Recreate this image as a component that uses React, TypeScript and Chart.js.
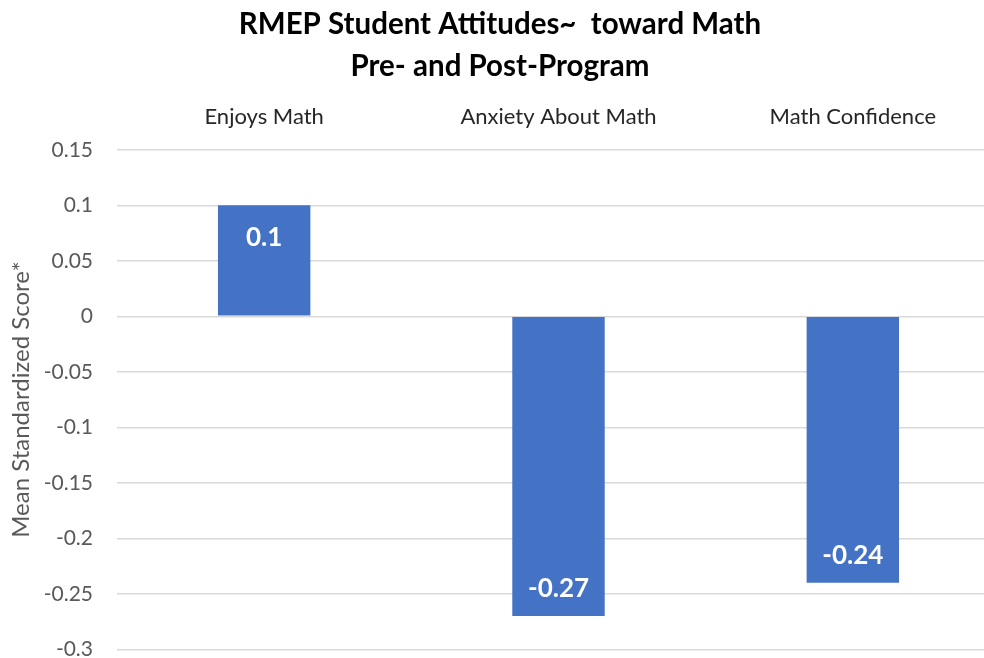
import React, { useEffect, useRef } from "react";
import { Chart, registerables } from "chart.js";

Chart.register(...registerables);

const categories = ["Enjoys Math", "Anxiety About Math", "Math Confidence"];
const meanScores = [0.1, -0.27, -0.24];
const titleLines = ["RMEP Student Attitudes~  toward Math", "Pre- and Post-Program"];
const yAxisTitle = "Mean Standardized Score*";

const FONT = "Lato, 'Open Sans', sans-serif";

// Writes each bar's value inside the bar, near its far end.
const barValueLabels = {
  id: "barValueLabels",
  afterDatasetsDraw(chart: any) {
    const { ctx } = chart;
    const meta = chart.getDatasetMeta(0);
    const data = chart.data.datasets[0].data as number[];
    ctx.save();
    ctx.fillStyle = "#ffffff";
    ctx.font = `bold 26px ${FONT}`;
    ctx.textAlign = "center";
    ctx.textBaseline = "middle";
    meta.data.forEach((bar: any, i: number) => {
      const v = data[i];
      const y = v >= 0 ? bar.y + 32 : bar.y - 27;
      ctx.fillText(String(v), bar.x, y);
    });
    ctx.restore();
  },
};

export default function App() {
  const canvasRef = useRef<HTMLCanvasElement | null>(null);

  useEffect(() => {
    if (!canvasRef.current) return;
    const chart = new Chart(canvasRef.current, {
      type: "bar",
      data: {
        labels: categories,
        datasets: [
          {
            data: meanScores,
            backgroundColor: "#4472c4",
            borderWidth: 0,
            barPercentage: 1,
            categoryPercentage: 0.314,
          },
        ],
      },
      options: {
        animation: false,
        responsive: true,
        maintainAspectRatio: false,
        layout: { padding: { left: 0, right: 0, top: 0, bottom: 0 } },
        plugins: {
          legend: { display: false },
          tooltip: { enabled: false },
          title: {
            display: true,
            text: titleLines,
            color: "#000000",
            font: { family: FONT, size: 29.5, weight: "bold", lineHeight: 1.42 },
            padding: { top: 4, bottom: 0 },
          },
        },
        scales: {
          x: {
            position: "top",
            grid: { display: false, drawTicks: false },
            border: { display: false },
            ticks: {
              color: "#262626",
              font: { family: FONT, size: 22 },
              padding: 20,
            },
            afterFit(scale: any) {
              scale.height = 62;
            },
          },
          y: {
            min: -0.3,
            max: 0.15,
            grid: { color: "#d9d9d9", lineWidth: 1.5, drawTicks: false },
            border: { display: false },
            ticks: {
              stepSize: 0.05,
              color: "#595959",
              font: { family: FONT, size: 21 },
              padding: 24,
              callback: (v: any) => String(Math.round(Number(v) * 100) / 100),
            },
            title: {
              display: true,
              text: yAxisTitle,
              color: "#595959",
              font: { family: FONT, size: 24 },
              padding: { top: 7, bottom: 0 },
            },
            afterFit(scale: any) {
              scale.width = 117;
            },
          },
        },
      },
      plugins: [barValueLabels],
    });
    return () => chart.destroy();
  }, []);

  return (
    <div
      style={{
        position: "fixed",
        left: 0,
        top: 0,
        width: 1000,
        height: 686,
        background: "#ffffff",
      }}
    >
      <canvas ref={canvasRef} />
    </div>
  );
}
